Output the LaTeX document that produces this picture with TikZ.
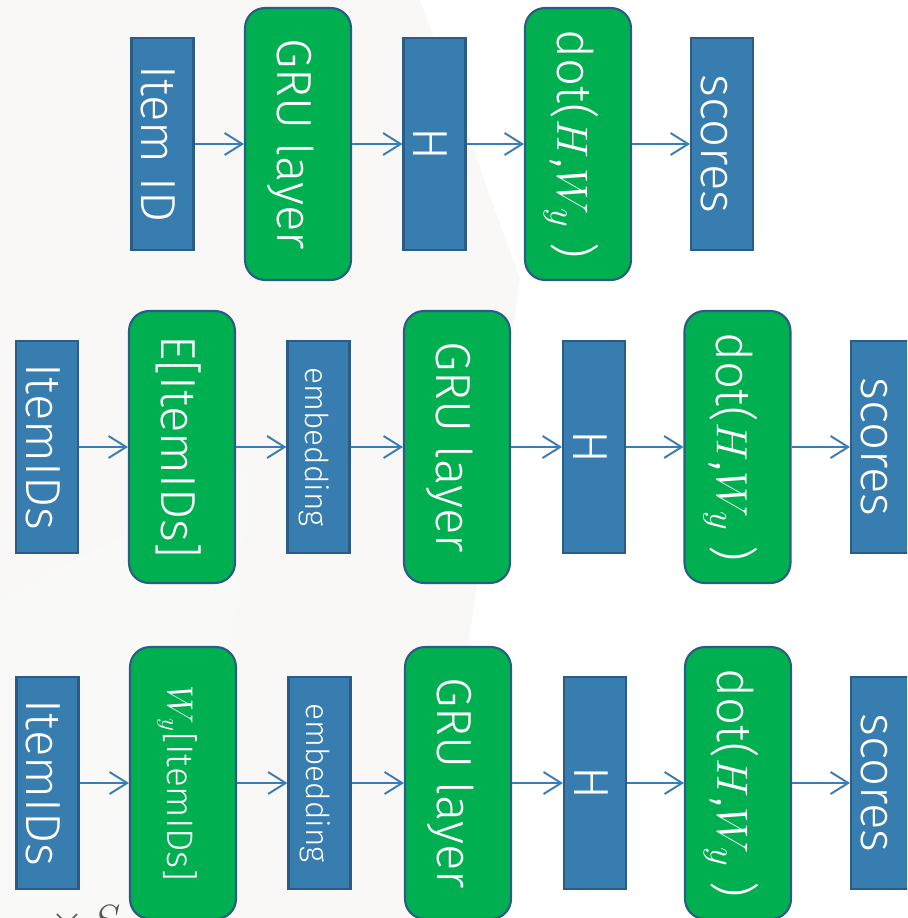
\documentclass[tikz,border=0pt]{standalone}
\usepackage{fontspec}
\setmainfont{Fira Sans Light}
\usetikzlibrary{arrows.meta}

\definecolor{boxblue}{HTML}{377DAF}
\definecolor{boxgreen}{HTML}{00AF50}
\definecolor{rim}{HTML}{2A5C86}
\definecolor{wire}{HTML}{3A7DB5}
\definecolor{paper}{HTML}{F9F8F6}

\tikzset{
  % blue boxes: vectors / tensors
  vec/.style={rectangle, rotate=-90, fill=boxblue, draw=rim, line width=1.2pt,
    text=white, inner sep=0pt, minimum width=4.24cm, minimum height=1.24cm,
    font=\fontsize{28}{32}\selectfont, text height=26.5pt, text depth=3pt},
  % green boxes: operations
  op/.style={vec, fill=boxgreen, rounded corners=0.4cm,
    minimum width=5.44cm, minimum height=2.12cm},
  small/.style={font=\fontsize{18}{21}\selectfont, text height=17pt, text depth=2pt},
  flow/.style={-{Straight Barb[length=10pt,width=12.5pt]}, line width=1.1pt, draw=wire}
}

\begin{document}
\begin{tikzpicture}[x=0.02cm, y=-0.02cm]
    \useasboundingbox (0,0) rectangle (907,918);
    \clip (0,0) rectangle (907,918);
    % Background
    \fill[white] (0,0) rectangle (907,918);
    \fill[paper] (0,0) -- (420,0) -- (520,280) -- (430,918) -- (0,918) -- cycle;
    \fill[black!2, opacity=0.6] (0,600) -- (250,470) -- (200,918) -- (0,918) -- cycle;
    \fill[black!2, opacity=0.4] (0,200) -- (130,280) -- (0,430) -- cycle;
    % Leftover formula at the lower edge
    \node[text=black!65, anchor=north west, inner sep=0pt,
      font=\fontsize{30}{30}\selectfont] (frag) at (50,905) {$\times\, S$};

    % Row 1: single item ID
    \node[vec] (id1) at (162.5,144) {Item ID};
    \node[op] (gru1) at (298,144) {GRU layer};
    \node[vec] (h1) at (434.5,144) {H};
    \node[op] (dot1) at (578,144) {dot($H$,$W_y$ )};
    \node[vec] (sc1) at (722,144) {scores};
    \draw[flow] (id1) -- (gru1);
    \draw[flow] (gru1) -- (h1);
    \draw[flow] (h1) -- (dot1);
    \draw[flow] (dot1) -- (sc1);

    % Row 2: separate embedding matrix E
    \node[vec] (id2) at (47,447) {ItemIDs};
    \node[op] (emb2) at (182,447) {E[ItemIDs]};
    \node[vec, small] (ev2) at (318.5,447) {embedding};
    \node[op] (gru2) at (457,447) {GRU layer};
    \node[vec] (h2) at (594,447) {H};
    \node[op] (dot2) at (737.5,447) {dot($H$,$W_y$ )};
    \node[vec] (sc2) at (882,447) {scores};
    \draw[flow] (id2) -- (emb2);
    \draw[flow] (emb2) -- (ev2);
    \draw[flow] (ev2) -- (gru2);
    \draw[flow] (gru2) -- (h2);
    \draw[flow] (h2) -- (dot2);
    \draw[flow] (dot2) -- (sc2);

    % Row 3: output weights W_y reused as embedding
    \node[vec] (id3) at (47.5,783) {ItemIDs};
    \node[op, font=\fontsize{21}{25}\selectfont, text height=20pt, text depth=2.5pt]
      (emb3) at (183,783) {$W_y$[ItemIDs]};
    \node[vec, small] (ev3) at (319.5,783) {embedding};
    \node[op] (gru3) at (458,783) {GRU layer};
    \node[vec] (h3) at (595,783) {H};
    \node[op] (dot3) at (738,783) {dot($H$,$W_y$ )};
    \node[vec] (sc3) at (882,783) {scores};
    \draw[flow] (id3) -- (emb3);
    \draw[flow] (emb3) -- (ev3);
    \draw[flow] (ev3) -- (gru3);
    \draw[flow] (gru3) -- (h3);
    \draw[flow] (h3) -- (dot3);
    \draw[flow] (dot3) -- (sc3);
\end{tikzpicture}
\end{document}
